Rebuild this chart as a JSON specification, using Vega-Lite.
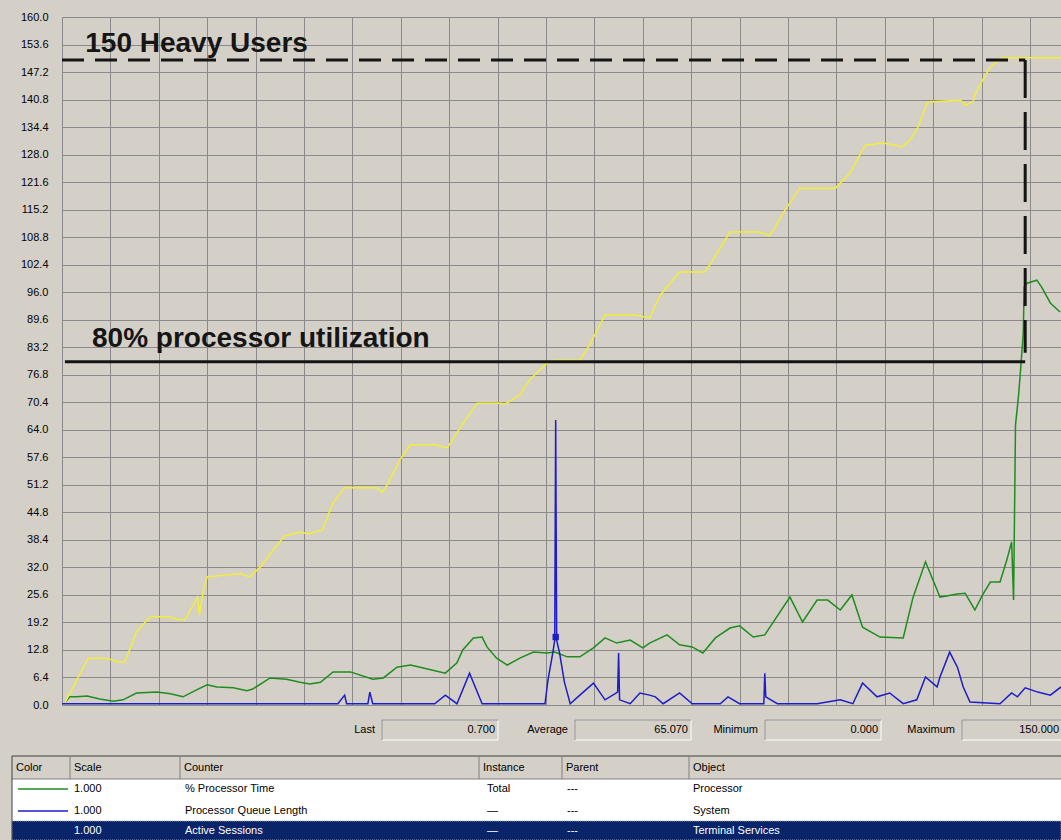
{
  "$schema": "https://vega.github.io/schema/vega-lite/v6.json",
  "background": "#D4D0C8",
  "padding": {"left": 0, "top": 11, "right": 0, "bottom": 0},
  "bounds": "flush",
  "spacing": 0,
  "config": {"view": {"stroke": null}, "font": "Liberation Sans"},
  "datasets": {
    "perf": [
      {"counter": "% Processor Time", "x": 0.3, "y": 0.5}, {"counter": "% Processor Time", "x": 0.8, "y": 1.9}, {"counter": "% Processor Time", "x": 1.5, "y": 1.9}, {"counter": "% Processor Time", "x": 2.6, "y": 2.1}, {"counter": "% Processor Time", "x": 3.9, "y": 1.4}, {"counter": "% Processor Time", "x": 5.3, "y": 0.9}, {"counter": "% Processor Time", "x": 6.3, "y": 1.2}, {"counter": "% Processor Time", "x": 7.7, "y": 2.8}, {"counter": "% Processor Time", "x": 9.8, "y": 3.0}, {"counter": "% Processor Time", "x": 11.2, "y": 2.6}, {"counter": "% Processor Time", "x": 12.5, "y": 1.9}, {"counter": "% Processor Time", "x": 13.9, "y": 3.5}, {"counter": "% Processor Time", "x": 15.0, "y": 4.7}, {"counter": "% Processor Time", "x": 16.0, "y": 4.2}, {"counter": "% Processor Time", "x": 17.7, "y": 4.0}, {"counter": "% Processor Time", "x": 19.1, "y": 3.3}, {"counter": "% Processor Time", "x": 19.7, "y": 3.7}, {"counter": "% Processor Time", "x": 21.5, "y": 6.3}, {"counter": "% Processor Time", "x": 23.2, "y": 6.0}, {"counter": "% Processor Time", "x": 24.6, "y": 5.3}, {"counter": "% Processor Time", "x": 25.6, "y": 4.9}, {"counter": "% Processor Time", "x": 26.7, "y": 5.3}, {"counter": "% Processor Time", "x": 28.0, "y": 7.7}, {"counter": "% Processor Time", "x": 29.8, "y": 7.7}, {"counter": "% Processor Time", "x": 32.1, "y": 6.0}, {"counter": "% Processor Time", "x": 33.2, "y": 6.3}, {"counter": "% Processor Time", "x": 34.6, "y": 8.8}, {"counter": "% Processor Time", "x": 36.0, "y": 9.3}, {"counter": "% Processor Time", "x": 37.0, "y": 8.8}, {"counter": "% Processor Time", "x": 38.3, "y": 8.1}, {"counter": "% Processor Time", "x": 39.6, "y": 7.4}, {"counter": "% Processor Time", "x": 40.8, "y": 9.8}, {"counter": "% Processor Time", "x": 41.4, "y": 12.8}, {"counter": "% Processor Time", "x": 42.5, "y": 15.6}, {"counter": "% Processor Time", "x": 43.4, "y": 15.8}, {"counter": "% Processor Time", "x": 43.9, "y": 13.5}, {"counter": "% Processor Time", "x": 44.9, "y": 10.9}, {"counter": "% Processor Time", "x": 46.0, "y": 9.3}, {"counter": "% Processor Time", "x": 47.3, "y": 10.9}, {"counter": "% Processor Time", "x": 48.7, "y": 12.3}, {"counter": "% Processor Time", "x": 50.1, "y": 12.1}, {"counter": "% Processor Time", "x": 50.9, "y": 12.3}, {"counter": "% Processor Time", "x": 52.2, "y": 11.2}, {"counter": "% Processor Time", "x": 53.5, "y": 11.2}, {"counter": "% Processor Time", "x": 54.9, "y": 13.3}, {"counter": "% Processor Time", "x": 56.1, "y": 15.6}, {"counter": "% Processor Time", "x": 57.3, "y": 14.4}, {"counter": "% Processor Time", "x": 58.7, "y": 15.1}, {"counter": "% Processor Time", "x": 60.0, "y": 13.3}, {"counter": "% Processor Time", "x": 60.7, "y": 14.4}, {"counter": "% Processor Time", "x": 62.5, "y": 16.3}, {"counter": "% Processor Time", "x": 63.8, "y": 14.0}, {"counter": "% Processor Time", "x": 65.1, "y": 13.5}, {"counter": "% Processor Time", "x": 66.2, "y": 12.1}, {"counter": "% Processor Time", "x": 67.5, "y": 15.6}, {"counter": "% Processor Time", "x": 69.0, "y": 17.9}, {"counter": "% Processor Time", "x": 70.0, "y": 18.4}, {"counter": "% Processor Time", "x": 71.4, "y": 15.8}, {"counter": "% Processor Time", "x": 72.6, "y": 16.3}, {"counter": "% Processor Time", "x": 75.2, "y": 25.1}, {"counter": "% Processor Time", "x": 76.5, "y": 19.3}, {"counter": "% Processor Time", "x": 78.0, "y": 24.4}, {"counter": "% Processor Time", "x": 79.1, "y": 24.4}, {"counter": "% Processor Time", "x": 80.4, "y": 22.1}, {"counter": "% Processor Time", "x": 81.6, "y": 25.6}, {"counter": "% Processor Time", "x": 82.7, "y": 18.1}, {"counter": "% Processor Time", "x": 84.5, "y": 15.8}, {"counter": "% Processor Time", "x": 86.9, "y": 15.6}, {"counter": "% Processor Time", "x": 87.9, "y": 24.9}, {"counter": "% Processor Time", "x": 89.2, "y": 33.3}, {"counter": "% Processor Time", "x": 90.7, "y": 25.1}, {"counter": "% Processor Time", "x": 92.5, "y": 25.8}, {"counter": "% Processor Time", "x": 93.3, "y": 26.0}, {"counter": "% Processor Time", "x": 94.3, "y": 22.1}, {"counter": "% Processor Time", "x": 95.1, "y": 25.6}, {"counter": "% Processor Time", "x": 95.9, "y": 28.6}, {"counter": "% Processor Time", "x": 96.9, "y": 28.6}, {"counter": "% Processor Time", "x": 97.6, "y": 33.7}, {"counter": "% Processor Time", "x": 98.1, "y": 37.9}, {"counter": "% Processor Time", "x": 98.3, "y": 24.4}, {"counter": "% Processor Time", "x": 98.5, "y": 65.1}, {"counter": "% Processor Time", "x": 98.8, "y": 71.6}, {"counter": "% Processor Time", "x": 99.0, "y": 77.2}, {"counter": "% Processor Time", "x": 99.3, "y": 86.5}, {"counter": "% Processor Time", "x": 99.4, "y": 97.2}, {"counter": "% Processor Time", "x": 99.7, "y": 98.1}, {"counter": "% Processor Time", "x": 100.7, "y": 98.8}, {"counter": "% Processor Time", "x": 101.2, "y": 97.2}, {"counter": "% Processor Time", "x": 102.1, "y": 93.5}, {"counter": "% Processor Time", "x": 103.1, "y": 91.4},
      {"counter": "Processor Queue Length", "x": 0, "y": 0.3}, {"counter": "Processor Queue Length", "x": 28.5, "y": 0.3}, {"counter": "Processor Queue Length", "x": 29.2, "y": 2.3}, {"counter": "Processor Queue Length", "x": 29.4, "y": 0.3}, {"counter": "Processor Queue Length", "x": 31.6, "y": 0.3}, {"counter": "Processor Queue Length", "x": 31.8, "y": 3.0}, {"counter": "Processor Queue Length", "x": 32.1, "y": 0.3}, {"counter": "Processor Queue Length", "x": 38.5, "y": 0.3}, {"counter": "Processor Queue Length", "x": 39.6, "y": 2.3}, {"counter": "Processor Queue Length", "x": 40.8, "y": 0.3}, {"counter": "Processor Queue Length", "x": 42.1, "y": 7.4}, {"counter": "Processor Queue Length", "x": 43.4, "y": 0.3}, {"counter": "Processor Queue Length", "x": 49.9, "y": 0.3}, {"counter": "Processor Queue Length", "x": 50.2, "y": 5.8}, {"counter": "Processor Queue Length", "x": 50.7, "y": 12.1}, {"counter": "Processor Queue Length", "x": 50.9, "y": 15.1}, {"counter": "Processor Queue Length", "x": 51.0, "y": 66.3}, {"counter": "Processor Queue Length", "x": 51.1, "y": 15.1}, {"counter": "Processor Queue Length", "x": 51.4, "y": 12.1}, {"counter": "Processor Queue Length", "x": 51.9, "y": 5.3}, {"counter": "Processor Queue Length", "x": 52.5, "y": 0.3}, {"counter": "Processor Queue Length", "x": 53.5, "y": 2.3}, {"counter": "Processor Queue Length", "x": 54.9, "y": 5.1}, {"counter": "Processor Queue Length", "x": 56.1, "y": 1.2}, {"counter": "Processor Queue Length", "x": 57.4, "y": 3.0}, {"counter": "Processor Queue Length", "x": 57.5, "y": 12.1}, {"counter": "Processor Queue Length", "x": 57.6, "y": 1.2}, {"counter": "Processor Queue Length", "x": 58.7, "y": 0.3}, {"counter": "Processor Queue Length", "x": 59.7, "y": 2.8}, {"counter": "Processor Queue Length", "x": 60.7, "y": 2.3}, {"counter": "Processor Queue Length", "x": 61.3, "y": 1.9}, {"counter": "Processor Queue Length", "x": 62.1, "y": 0.3}, {"counter": "Processor Queue Length", "x": 63.8, "y": 2.8}, {"counter": "Processor Queue Length", "x": 65.1, "y": 0.3}, {"counter": "Processor Queue Length", "x": 68.0, "y": 0.3}, {"counter": "Processor Queue Length", "x": 68.8, "y": 1.9}, {"counter": "Processor Queue Length", "x": 70.0, "y": 0.3}, {"counter": "Processor Queue Length", "x": 72.5, "y": 0.3}, {"counter": "Processor Queue Length", "x": 72.6, "y": 7.4}, {"counter": "Processor Queue Length", "x": 72.7, "y": 1.9}, {"counter": "Processor Queue Length", "x": 73.9, "y": 0.3}, {"counter": "Processor Queue Length", "x": 78.0, "y": 0.3}, {"counter": "Processor Queue Length", "x": 80.4, "y": 1.2}, {"counter": "Processor Queue Length", "x": 81.7, "y": 0.3}, {"counter": "Processor Queue Length", "x": 82.7, "y": 5.1}, {"counter": "Processor Queue Length", "x": 84.2, "y": 1.9}, {"counter": "Processor Queue Length", "x": 85.5, "y": 2.8}, {"counter": "Processor Queue Length", "x": 86.9, "y": 0.3}, {"counter": "Processor Queue Length", "x": 88.3, "y": 1.2}, {"counter": "Processor Queue Length", "x": 89.2, "y": 6.5}, {"counter": "Processor Queue Length", "x": 90.4, "y": 4.2}, {"counter": "Processor Queue Length", "x": 90.7, "y": 6.5}, {"counter": "Processor Queue Length", "x": 91.7, "y": 12.3}, {"counter": "Processor Queue Length", "x": 92.5, "y": 8.8}, {"counter": "Processor Queue Length", "x": 93.1, "y": 4.2}, {"counter": "Processor Queue Length", "x": 93.8, "y": 0.7}, {"counter": "Processor Queue Length", "x": 96.9, "y": 0.3}, {"counter": "Processor Queue Length", "x": 98.1, "y": 2.8}, {"counter": "Processor Queue Length", "x": 98.7, "y": 1.9}, {"counter": "Processor Queue Length", "x": 99.5, "y": 4.0}, {"counter": "Processor Queue Length", "x": 100.8, "y": 3.0}, {"counter": "Processor Queue Length", "x": 102.1, "y": 2.3}, {"counter": "Processor Queue Length", "x": 103.2, "y": 4.2},
      {"counter": "Active Sessions", "x": 0.3, "y": 0.5}, {"counter": "Active Sessions", "x": 2.7, "y": 10.9}, {"counter": "Active Sessions", "x": 4.6, "y": 10.9}, {"counter": "Active Sessions", "x": 5.8, "y": 10.0}, {"counter": "Active Sessions", "x": 6.5, "y": 10.0}, {"counter": "Active Sessions", "x": 7.7, "y": 17.0}, {"counter": "Active Sessions", "x": 9.1, "y": 20.5}, {"counter": "Active Sessions", "x": 11.2, "y": 20.5}, {"counter": "Active Sessions", "x": 12.0, "y": 19.8}, {"counter": "Active Sessions", "x": 12.7, "y": 19.8}, {"counter": "Active Sessions", "x": 14.0, "y": 25.1}, {"counter": "Active Sessions", "x": 14.2, "y": 20.9}, {"counter": "Active Sessions", "x": 14.6, "y": 26.7}, {"counter": "Active Sessions", "x": 15.0, "y": 29.8}, {"counter": "Active Sessions", "x": 18.4, "y": 30.5}, {"counter": "Active Sessions", "x": 19.4, "y": 29.8}, {"counter": "Active Sessions", "x": 20.5, "y": 32.1}, {"counter": "Active Sessions", "x": 21.8, "y": 36.0}, {"counter": "Active Sessions", "x": 23.0, "y": 39.3}, {"counter": "Active Sessions", "x": 24.6, "y": 40.2}, {"counter": "Active Sessions", "x": 25.4, "y": 39.8}, {"counter": "Active Sessions", "x": 26.9, "y": 40.7}, {"counter": "Active Sessions", "x": 28.0, "y": 47.0}, {"counter": "Active Sessions", "x": 29.2, "y": 50.5}, {"counter": "Active Sessions", "x": 32.5, "y": 50.5}, {"counter": "Active Sessions", "x": 33.1, "y": 49.5}, {"counter": "Active Sessions", "x": 33.7, "y": 51.6}, {"counter": "Active Sessions", "x": 34.9, "y": 57.0}, {"counter": "Active Sessions", "x": 36.0, "y": 60.5}, {"counter": "Active Sessions", "x": 38.5, "y": 60.5}, {"counter": "Active Sessions", "x": 39.8, "y": 59.8}, {"counter": "Active Sessions", "x": 40.8, "y": 63.3}, {"counter": "Active Sessions", "x": 41.1, "y": 64.4}, {"counter": "Active Sessions", "x": 42.9, "y": 70.2}, {"counter": "Active Sessions", "x": 45.2, "y": 70.2}, {"counter": "Active Sessions", "x": 45.8, "y": 70.0}, {"counter": "Active Sessions", "x": 47.3, "y": 72.1}, {"counter": "Active Sessions", "x": 48.3, "y": 75.6}, {"counter": "Active Sessions", "x": 49.9, "y": 79.1}, {"counter": "Active Sessions", "x": 50.9, "y": 80.2}, {"counter": "Active Sessions", "x": 53.5, "y": 80.2}, {"counter": "Active Sessions", "x": 54.5, "y": 83.7}, {"counter": "Active Sessions", "x": 56.1, "y": 90.7}, {"counter": "Active Sessions", "x": 59.2, "y": 90.7}, {"counter": "Active Sessions", "x": 60.7, "y": 90.0}, {"counter": "Active Sessions", "x": 61.8, "y": 95.3}, {"counter": "Active Sessions", "x": 63.8, "y": 100.7}, {"counter": "Active Sessions", "x": 66.4, "y": 100.7}, {"counter": "Active Sessions", "x": 67.1, "y": 103.0}, {"counter": "Active Sessions", "x": 69.0, "y": 110.0}, {"counter": "Active Sessions", "x": 72.1, "y": 110.0}, {"counter": "Active Sessions", "x": 73.1, "y": 109.1}, {"counter": "Active Sessions", "x": 74.7, "y": 115.1}, {"counter": "Active Sessions", "x": 76.2, "y": 120.2}, {"counter": "Active Sessions", "x": 79.9, "y": 120.2}, {"counter": "Active Sessions", "x": 81.4, "y": 123.7}, {"counter": "Active Sessions", "x": 82.4, "y": 127.9}, {"counter": "Active Sessions", "x": 83.0, "y": 130.2}, {"counter": "Active Sessions", "x": 84.8, "y": 130.7}, {"counter": "Active Sessions", "x": 86.1, "y": 130.2}, {"counter": "Active Sessions", "x": 86.8, "y": 129.8}, {"counter": "Active Sessions", "x": 87.6, "y": 131.4}, {"counter": "Active Sessions", "x": 88.4, "y": 134.2}, {"counter": "Active Sessions", "x": 88.9, "y": 137.2}, {"counter": "Active Sessions", "x": 89.4, "y": 140.2}, {"counter": "Active Sessions", "x": 92.8, "y": 140.7}, {"counter": "Active Sessions", "x": 93.3, "y": 139.5}, {"counter": "Active Sessions", "x": 94.1, "y": 140.2}, {"counter": "Active Sessions", "x": 94.3, "y": 141.9}, {"counter": "Active Sessions", "x": 95.1, "y": 145.3}, {"counter": "Active Sessions", "x": 95.9, "y": 148.4}, {"counter": "Active Sessions", "x": 97.1, "y": 150.5}, {"counter": "Active Sessions", "x": 103.2, "y": 150.5}
    ],
    "rows": [
      {"r": 4, "counter": "% Processor Time", "scale": "1.000", "instance": "Total", "parent": "---", "object": "Processor"},
      {"r": 5, "counter": "Processor Queue Length", "scale": "1.000", "instance": "—", "parent": "---", "object": "System"},
      {"r": 6, "counter": "Active Sessions", "scale": "1.000", "instance": "—", "parent": "---", "object": "Terminal Services"}
    ],
    "headers": [
      {"c": 0, "t": "Color"}, {"c": 1, "t": "Scale"}, {"c": 2, "t": "Counter"}, {"c": 3, "t": "Instance"}, {"c": 4, "t": "Parent"}, {"c": 5, "t": "Object"}
    ],
    "stats": [
      {"s": 0, "label": "Last", "value": "0.700"},
      {"s": 1, "label": "Average", "value": "65.070"},
      {"s": 2, "label": "Minimum", "value": "0.000"},
      {"s": 3, "label": "Maximum", "value": "150.000"}
    ]
  },
  "vconcat": [
    {
      "width": 999,
      "height": 688,
      "layer": [
        {
          "data": {"name": "perf"},
          "mark": {"type": "line", "strokeWidth": 1.5, "clip": true},
          "encoding": {
            "x": {"field": "x", "type": "quantitative", "scale": {"domain": [0, 103.2], "nice": false, "zero": false},
              "axis": {"values": [0, 5, 10, 15, 20, 25, 30, 35, 40, 45, 50, 55, 60, 65, 70, 75, 80, 85, 90, 95, 100], "tickCount": 40, "labels": false, "ticks": false, "domain": false, "grid": true, "gridColor": "#8a8a8a", "gridOpacity": 1, "gridWidth": 1, "title": null}},
            "y": {"field": "y", "type": "quantitative", "scale": {"domain": [0, 160], "nice": false},
              "axis": {"values": [0, 6.4, 12.8, 19.2, 25.6, 32, 38.4, 44.8, 51.2, 57.6, 64, 70.4, 76.8, 83.2, 89.6, 96, 102.4, 108.8, 115.2, 121.6, 128, 134.4, 140.8, 147.2, 153.6, 160], "tickCount": 40, "format": ".1f", "labelFont": "Liberation Sans", "labelFontSize": 11, "labelColor": "#000000", "labelPadding": 14, "labelFlush": false, "labelOverlap": false, "ticks": false, "domain": false, "grid": true, "gridColor": "#8a8a8a", "gridOpacity": 1, "gridWidth": 1, "title": null}},
            "color": {"field": "counter", "type": "nominal", "scale": {"domain": ["% Processor Time", "Processor Queue Length", "Active Sessions"], "range": ["#1E8C1E", "#1C1CC8", "#F2EE3A"]}, "legend": null}
          }
        },
        {
          "data": {"values": [{"x": 51.0, "y": 15.8}]},
          "mark": {"type": "square", "size": 40, "color": "#1C1CC8", "opacity": 1},
          "encoding": {"x": {"field": "x", "type": "quantitative"}, "y": {"field": "y", "type": "quantitative"}}
        },
        {
          "data": {"values": [{"x": 0, "x2": 99.5, "y": 150}]},
          "mark": {"type": "rule", "strokeWidth": 3, "strokeDash": [22, 11], "color": "#141414"},
          "encoding": {"x": {"field": "x", "type": "quantitative"}, "x2": {"field": "x2"}, "y": {"field": "y", "type": "quantitative"}}
        },
        {
          "data": {"values": [{"x": 99.5, "y": 150, "y2": 81.9}]},
          "mark": {"type": "rule", "strokeWidth": 3, "strokeDash": [38, 14], "color": "#141414"},
          "encoding": {"x": {"field": "x", "type": "quantitative"}, "y": {"field": "y", "type": "quantitative"}, "y2": {"field": "y2"}}
        },
        {
          "data": {"values": [{"x": 0.3, "x2": 99.5, "y": 79.8}]},
          "mark": {"type": "rule", "strokeWidth": 3, "color": "#141414"},
          "encoding": {"x": {"field": "x", "type": "quantitative"}, "x2": {"field": "x2"}, "y": {"field": "y", "type": "quantitative"}}
        },
        {
          "data": {"values": [{"label": "150 Heavy Users", "x": 2.4, "y": 151.9}, {"label": "80% processor utilization", "x": 3.1, "y": 83.3}]},
          "mark": {"type": "text", "align": "left", "baseline": "alphabetic", "fontSize": 28, "fontWeight": "bold", "font": "Liberation Sans", "color": "#151515"},
          "encoding": {"x": {"field": "x", "type": "quantitative"}, "y": {"field": "y", "type": "quantitative"}, "text": {"field": "label"}}
        }
      ]
    },
    {
      "width": 999,
      "height": 135,
      "resolve": {"scale": {"x": "independent", "y": "shared"}},
      "layer": [
        {
          "data": {"values": [{}]},
          "mark": {"type": "rect", "fill": "#D4D0C8"},
          "encoding": {
            "x": {"datum": -1, "type": "quantitative", "scale": {"domain": [-1, 0, 1, 2, 3, 4, 5, 6], "range": [-62, -50, 8, 118, 417, 500, 627, 999]}, "axis": null},
            "x2": {"datum": 6},
            "y": {"datum": 0.9, "type": "quantitative", "scale": {"domain": [0, 1, 2, 3, 4, 5, 6, 7], "range": [-5, 15, 35, 51, 74, 96, 116, 135]}, "axis": null},
            "y2": {"datum": 7}
          }
        },
        {
          "data": {"values": [{}]},
          "mark": {"type": "rect", "fill": "#FFFFFF"},
          "encoding": {
            "x": {"datum": 0, "type": "quantitative", "scale": {"domain": [-1, 0, 1, 2, 3, 4, 5, 6], "range": [-62, -50, 8, 118, 417, 500, 627, 999]}, "axis": null},
            "x2": {"datum": 6},
            "y": {"datum": 4, "type": "quantitative"},
            "y2": {"datum": 6}
          }
        },
        {
          "data": {"values": [{}]},
          "mark": {"type": "rect", "fill": "#0A246A", "stroke": "#9aa4c0", "strokeDash": [1, 1], "strokeWidth": 1},
          "encoding": {
            "x": {"datum": 0, "type": "quantitative", "scale": {"domain": [-1, 0, 1, 2, 3, 4, 5, 6], "range": [-62, -50, 8, 118, 417, 500, 627, 999]}, "axis": null},
            "x2": {"datum": 6},
            "y": {"datum": 6, "type": "quantitative"},
            "y2": {"datum": 7}
          }
        },
        {
          "data": {"values": [{}]},
          "mark": {"type": "rule", "color": "#404040", "strokeWidth": 1},
          "encoding": {
            "x": {"datum": 0, "type": "quantitative", "scale": {"domain": [-1, 0, 1, 2, 3, 4, 5, 6], "range": [-62, -50, 8, 118, 417, 500, 627, 999]}, "axis": null},
            "x2": {"datum": 6},
            "y": {"datum": 3, "type": "quantitative"}
          }
        },
        {
          "data": {"values": [{}]},
          "mark": {"type": "rule", "color": "#808080", "strokeWidth": 1},
          "encoding": {
            "x": {"datum": 0, "type": "quantitative", "scale": {"domain": [-1, 0, 1, 2, 3, 4, 5, 6], "range": [-62, -50, 8, 118, 417, 500, 627, 999]}, "axis": null},
            "x2": {"datum": 6},
            "y": {"datum": 4, "type": "quantitative"}
          }
        },
        {
          "data": {"values": [{}]},
          "mark": {"type": "rule", "color": "#404040", "strokeWidth": 1},
          "encoding": {
            "x": {"datum": 0, "type": "quantitative", "scale": {"domain": [-1, 0, 1, 2, 3, 4, 5, 6], "range": [-62, -50, 8, 118, 417, 500, 627, 999]}, "axis": null},
            "y": {"datum": 3, "type": "quantitative"},
            "y2": {"datum": 7}
          }
        },
        {
          "data": {"name": "headers"},
          "transform": [{"filter": "datum.c > 0"}],
          "mark": {"type": "rule", "color": "#808080", "strokeWidth": 1},
          "encoding": {
            "x": {"field": "c", "type": "quantitative", "scale": {"domain": [-1, 0, 1, 2, 3, 4, 5, 6], "range": [-62, -50, 8, 118, 417, 500, 627, 999]}, "axis": null},
            "y": {"datum": 3, "type": "quantitative"},
            "y2": {"datum": 4}
          }
        },
        {
          "data": {"name": "headers"},
          "mark": {"type": "text", "align": "left", "baseline": "middle", "dx": 4, "fontSize": 11, "color": "#000000"},
          "encoding": {
            "x": {"field": "c", "type": "quantitative", "scale": {"domain": [-1, 0, 1, 2, 3, 4, 5, 6], "range": [-62, -50, 8, 118, 417, 500, 627, 999]}, "axis": null},
            "y": {"datum": 3.5, "type": "quantitative"},
            "text": {"field": "t"}
          }
        },
        {
          "data": {"name": "rows"},
          "transform": [{"filter": "datum.r < 6"}],
          "mark": {"type": "rule", "strokeWidth": 1.5, "xOffset": 6, "x2Offset": -2, "yOffset": 10},
          "encoding": {
            "x": {"datum": 0, "type": "quantitative", "scale": {"domain": [-1, 0, 1, 2, 3, 4, 5, 6], "range": [-62, -50, 8, 118, 417, 500, 627, 999]}, "axis": null},
            "x2": {"datum": 1},
            "y": {"field": "r", "type": "quantitative"},
            "color": {"field": "counter", "type": "nominal", "scale": {"domain": ["% Processor Time", "Processor Queue Length", "Active Sessions"], "range": ["#1E8C1E", "#1C1CC8", "#F2EE3A"]}, "legend": null}
          }
        },
        {
          "data": {"name": "rows"},
          "mark": {"type": "text", "align": "left", "baseline": "middle", "dx": 4, "dy": 10, "fontSize": 11},
          "encoding": {
            "x": {"datum": 1, "type": "quantitative", "scale": {"domain": [-1, 0, 1, 2, 3, 4, 5, 6], "range": [-62, -50, 8, 118, 417, 500, 627, 999]}, "axis": null},
            "y": {"field": "r", "type": "quantitative"},
            "text": {"field": "scale"},
            "color": {"condition": {"test": "datum.r == 6", "value": "#FFFFFF"}, "value": "#000000"}
          }
        },
        {
          "data": {"name": "rows"},
          "mark": {"type": "text", "align": "left", "baseline": "middle", "dx": 5, "dy": 10, "fontSize": 11},
          "encoding": {
            "x": {"datum": 2, "type": "quantitative", "scale": {"domain": [-1, 0, 1, 2, 3, 4, 5, 6], "range": [-62, -50, 8, 118, 417, 500, 627, 999]}, "axis": null},
            "y": {"field": "r", "type": "quantitative"},
            "text": {"field": "counter"},
            "color": {"condition": {"test": "datum.r == 6", "value": "#FFFFFF"}, "value": "#000000"}
          }
        },
        {
          "data": {"name": "rows"},
          "mark": {"type": "text", "align": "left", "baseline": "middle", "dx": 8, "dy": 10, "fontSize": 11},
          "encoding": {
            "x": {"datum": 3, "type": "quantitative", "scale": {"domain": [-1, 0, 1, 2, 3, 4, 5, 6], "range": [-62, -50, 8, 118, 417, 500, 627, 999]}, "axis": null},
            "y": {"field": "r", "type": "quantitative"},
            "text": {"field": "instance"},
            "color": {"condition": {"test": "datum.r == 6", "value": "#FFFFFF"}, "value": "#000000"}
          }
        },
        {
          "data": {"name": "rows"},
          "mark": {"type": "text", "align": "left", "baseline": "middle", "dx": 5, "dy": 10, "fontSize": 11},
          "encoding": {
            "x": {"datum": 4, "type": "quantitative", "scale": {"domain": [-1, 0, 1, 2, 3, 4, 5, 6], "range": [-62, -50, 8, 118, 417, 500, 627, 999]}, "axis": null},
            "y": {"field": "r", "type": "quantitative"},
            "text": {"field": "parent"},
            "color": {"condition": {"test": "datum.r == 6", "value": "#FFFFFF"}, "value": "#000000"}
          }
        },
        {
          "data": {"name": "rows"},
          "mark": {"type": "text", "align": "left", "baseline": "middle", "dx": 4, "dy": 10, "fontSize": 11},
          "encoding": {
            "x": {"datum": 5, "type": "quantitative", "scale": {"domain": [-1, 0, 1, 2, 3, 4, 5, 6], "range": [-62, -50, 8, 118, 417, 500, 627, 999]}, "axis": null},
            "y": {"field": "r", "type": "quantitative"},
            "text": {"field": "object"},
            "color": {"condition": {"test": "datum.r == 6", "value": "#FFFFFF"}, "value": "#000000"}
          }
        },
        {
          "data": {"name": "stats"},
          "mark": {"type": "rect", "fill": "#D4D0C8", "stroke": "#FFFFFF", "strokeWidth": 1, "x2Offset": 116, "clip": true},
          "encoding": {
            "x": {"field": "s", "type": "quantitative", "scale": {"domain": [0, 1, 2, 3], "range": [320, 513, 703, 900]}, "axis": null},
            "x2": {"field": "s"},
            "y": {"datum": 1, "type": "quantitative"},
            "y2": {"datum": 2}
          }
        },
        {
          "data": {"name": "stats"},
          "mark": {"type": "rule", "color": "#808080", "strokeWidth": 1, "x2Offset": 116, "clip": true},
          "encoding": {
            "x": {"field": "s", "type": "quantitative", "scale": {"domain": [0, 1, 2, 3], "range": [320, 513, 703, 900]}, "axis": null},
            "x2": {"field": "s"},
            "y": {"datum": 1, "type": "quantitative"}
          }
        },
        {
          "data": {"name": "stats"},
          "mark": {"type": "rule", "color": "#808080", "strokeWidth": 1},
          "encoding": {
            "x": {"field": "s", "type": "quantitative", "scale": {"domain": [0, 1, 2, 3], "range": [320, 513, 703, 900]}, "axis": null},
            "y": {"datum": 1, "type": "quantitative"},
            "y2": {"datum": 2}
          }
        },
        {
          "data": {"name": "stats"},
          "mark": {"type": "text", "align": "right", "baseline": "middle", "dx": -7, "fontSize": 11, "color": "#000000"},
          "encoding": {
            "x": {"field": "s", "type": "quantitative", "scale": {"domain": [0, 1, 2, 3], "range": [320, 513, 703, 900]}, "axis": null},
            "y": {"datum": 1.5, "type": "quantitative"},
            "text": {"field": "label"}
          }
        },
        {
          "data": {"name": "stats"},
          "transform": [{"filter": "datum.s < 3"}],
          "mark": {"type": "text", "align": "right", "baseline": "middle", "dx": 113, "fontSize": 11, "color": "#000000"},
          "encoding": {
            "x": {"field": "s", "type": "quantitative", "scale": {"domain": [0, 1, 2, 3], "range": [320, 513, 703, 900]}, "axis": null},
            "y": {"datum": 1.5, "type": "quantitative"},
            "text": {"field": "value"}
          }
        },
        {
          "data": {"name": "stats"},
          "transform": [{"filter": "datum.s == 3"}],
          "mark": {"type": "text", "align": "right", "baseline": "middle", "dx": 97, "fontSize": 11, "color": "#000000"},
          "encoding": {
            "x": {"field": "s", "type": "quantitative", "scale": {"domain": [0, 1, 2, 3], "range": [320, 513, 703, 900]}, "axis": null},
            "y": {"datum": 1.5, "type": "quantitative"},
            "text": {"field": "value"}
          }
        }
      ]
    }
  ]
}
